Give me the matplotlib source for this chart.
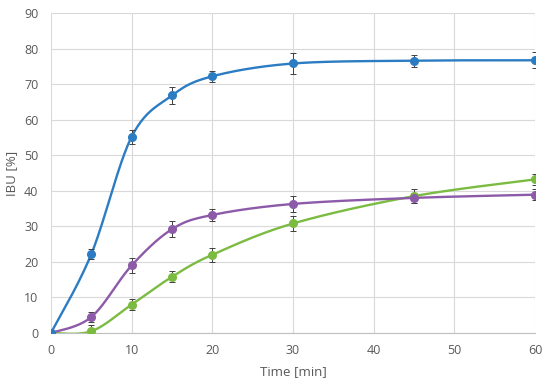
import numpy as np
import matplotlib
matplotlib.use("Agg")
import matplotlib.pyplot as plt

time = [0, 5, 10, 15, 20, 30, 45, 60]
blue = [0, 22.2, 55.2, 66.8, 72.2, 75.8, 76.6, 76.7]
blue_err = [0, 1.5, 2.0, 2.3, 1.5, 3.0, 1.7, 2.2]
purple = [0, 4.5, 19.0, 29.2, 33.2, 36.3, 38.0, 38.9]
purple_err = [0, 1.5, 2.0, 2.3, 1.7, 2.3, 1.5, 1.5]
green = [0, 0.5, 8.0, 15.8, 22.0, 30.8, 38.5, 43.2]
green_err = [0, 1.8, 1.5, 1.5, 2.0, 2.0, 2.0, 1.5]
xticks = [0, 10, 20, 30, 40, 50, 60]
yticks = [0, 10, 20, 30, 40, 50, 60, 70, 80, 90]


def smooth(x, y, n=40):
    x = np.asarray(x, float); y = np.asarray(y, float)
    px = np.concatenate([[x[0]], x, [x[-1]]])
    py = np.concatenate([[y[0]], y, [y[-1]]])
    xs, ys = [], []
    t = np.linspace(0, 1, n)
    for i in range(1, len(px) - 2):
        p0 = np.array([px[i], py[i]]); p3 = np.array([px[i + 1], py[i + 1]])
        c1 = p0 + (np.array([px[i + 1], py[i + 1]]) - np.array([px[i - 1], py[i - 1]])) / 6
        c2 = p3 - (np.array([px[i + 2], py[i + 2]]) - np.array([px[i], py[i]])) / 6
        b = ((1 - t) ** 3)[:, None] * p0 + (3 * (1 - t) ** 2 * t)[:, None] * c1 + \
            (3 * (1 - t) * t ** 2)[:, None] * c2 + (t ** 3)[:, None] * p3
        xs.extend(b[:, 0]); ys.extend(b[:, 1])
    return xs, ys


plt.rcParams['font.family'] = ['Open Sans', 'DejaVu Sans']
fig = plt.figure(figsize=(5.5, 3.86), dpi=100)
ax = fig.add_axes([0.0927, 0.1373, 0.88, 0.829])

for y, e, c in [(green, green_err, '#7cbb42'), (purple, purple_err, '#8c5aa8'), (blue, blue_err, '#2b7cc3')]:
    sx, sy = smooth(time, y)
    ax.plot(sx, sy, color=c, lw=1.7, zorder=3)
    ax.errorbar(time, y, yerr=e, fmt='none', ecolor='#404040', elinewidth=0.7, capsize=2, capthick=0.7, zorder=4)
    ax.plot(time, y, 'o', color=c, ms=5.5, zorder=5)

ax.set_xlim(0, 60)
ax.set_ylim(0, 90)
ax.set_xticks(xticks)
ax.set_yticks(yticks)
ax.grid(True, color='#d9d9d9', lw=0.8)
ax.set_axisbelow(True)
for s in ['top', 'right', 'left']:
    ax.spines[s].set_visible(False)
ax.spines['bottom'].set_color('#bfbfbf')
ax.tick_params(axis='x', length=0, labelsize=9, labelcolor='#595959', pad=8)
ax.tick_params(axis='y', length=0, labelsize=9, labelcolor='#595959', pad=9)
ax.set_xlabel('Time [min]', fontsize=9.5, color='#595959')
ax.set_ylabel('IBU [%]', fontsize=9.5, color='#595959')
ax.xaxis.set_label_coords(0.5, -0.1)
ax.yaxis.set_label_coords(-0.068, 0.5)

fig.savefig('out.png', dpi=100)
